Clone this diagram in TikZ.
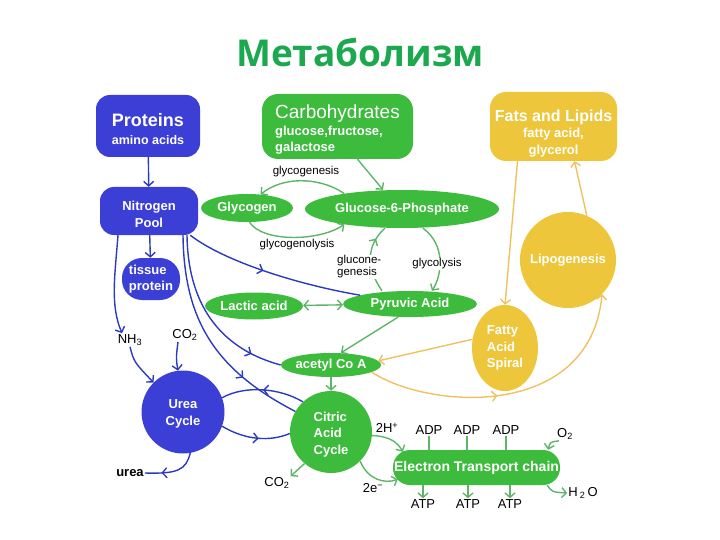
\documentclass[tikz,border=0pt]{standalone}
\usepackage{fontspec}
\setmainfont{Liberation Sans}
\newfontfamily\titlefont{Open Sans}
\usepackage{tikz}
\usetikzlibrary{arrows.meta,shapes.geometric,decorations.markings}
\definecolor{bluefill}{HTML}{3B3FD6}
\definecolor{blueline}{HTML}{2B3BBF}
\definecolor{greenfill}{HTML}{3DBB3D}
\definecolor{greenline}{HTML}{5DB46A}
\definecolor{yellowfill}{HTML}{EDC63B}
\definecolor{yellowline}{HTML}{EFC15F}
\definecolor{titlegreen}{HTML}{1CA84E}
\tikzset{
  >={Straight Barb[length=4.5pt,width=10pt]},
  nodefont/.style={font=\bfseries\fontsize{13}{16.5}\selectfont},
  bluebox/.style={fill=bluefill,text=white,rounded corners=14pt,inner sep=0pt,align=center,nodefont},
  greenbox/.style={fill=greenfill,text=white,rounded corners=14pt,inner sep=0pt,align=center,nodefont},
  yellowbox/.style={fill=yellowfill,text=white,rounded corners=14pt,inner sep=0pt,align=center,nodefont},
  bblob/.style={ellipse,fill=bluefill,text=white,inner sep=0pt,align=center,nodefont},
  gblob/.style={ellipse,fill=greenfill,text=white,inner sep=0pt,align=center,nodefont},
  yblob/.style={ellipse,fill=yellowfill,text=white,inner sep=0pt,align=center,nodefont},
  lbl/.style={inner sep=1pt,fill=white,font=\fontsize{11.5}{12}\selectfont},
  chem/.style={inner sep=1pt,font=\fontsize{13}{15}\selectfont},
  bline/.style={blueline,line width=1.4pt},
  gline/.style={greenline,line width=1.4pt},
  yline/.style={yellowline,line width=1.4pt},
  bar/.style={bline,->},
  gar/.style={gline,->},
  yar/.style={yline,->},
  midtip/.style={postaction={decorate},decoration={markings,mark=at position #1 with {\arrow{>}}}}
}

\begin{document}
\begin{tikzpicture}[x=1pt,y=-1pt]
\useasboundingbox (0,0) rectangle (720,540);
\node[font=\titlefont\bfseries\fontsize{37}{40}\selectfont,text=titlegreen] (title) at (360,52) {Метаболизм};

% boxes on top
\node[bluebox,minimum width=104pt,minimum height=62pt,align=left] (prot) at (148,126)
  {{\fontsize{18}{20}\selectfont\rule{0pt}{19pt}Proteins}\\[1pt]{\fontsize{12.5}{14}\selectfont amino acids}};
\node[greenbox,minimum width=151pt,minimum height=65pt,rounded corners=16pt,align=left] (carb) at (337.5,126.5)
  {{\mdseries\fontsize{19}{21}\selectfont\rule{0pt}{20pt}Carbohydrates}\\ glucose,fructose,\\ galactose};
\node[yellowbox,minimum width=127pt,minimum height=69pt,rounded corners=16pt] (fats) at (553.5,126.5)
  {{\fontsize{16}{18}\selectfont\rule{0pt}{25pt}Fats and Lipids}\\ fatty acid,\\ glycerol};

\node[bluebox,minimum width=98pt,minimum height=48pt] (npool) at (149,211) {\rule{0pt}{16.5pt}Nitrogen\\ Pool};
\node[gblob,minimum width=92pt,minimum height=28pt] (glycogen) at (247,208) {Glycogen};
\node[gblob,minimum width=194pt,minimum height=38pt] (g6p) at (402,209) {Glucose-6-Phosphate};
\node[bluebox,minimum width=58pt,minimum height=42pt,rounded corners=20pt,align=left] (tissue) at (151,279) {tissue\\ protein};
\node[yblob,circle,minimum size=96pt] (lipo) at (568,260) {Lipogenesis};
\node[gblob,minimum width=98pt,minimum height=27pt] (lactic) at (254,306) {Lactic acid};
\node[gblob,minimum width=134pt,minimum height=26pt] (pyr) at (410,304) {Pyruvic Acid};
\node[yblob,minimum width=66pt,minimum height=86pt,align=left] (fas) at (505,348) {Fatty\\ Acid\\ Spiral};
\node[gblob,minimum width=97pt,minimum height=24pt] (acetyl) at (331,365) {acetyl Co A};
\node[bblob,circle,minimum size=83pt] (urea) at (183,412) {\rule{0pt}{13pt}Urea\\ Cycle};
\node[gblob,circle,minimum size=82pt,align=left] (citric) at (331,432) {\rule{0pt}{14pt}Citric\\ Acid\\ Cycle};
\node[greenbox,minimum width=167pt,minimum height=35pt,rounded corners=17pt,font=\bfseries\fontsize{14}{16}\selectfont] (etc) at (476.5,467.5) {Electron Transport chain};

% formula labels
\node[chem] (nh3) at (130,340) {NH\textsubscript{3}};
\node[chem] (co2a) at (185,335) {CO\textsubscript{2}};
\node[chem,font=\bfseries\fontsize{13}{15}\selectfont] (ureal) at (130,473) {urea};
\node[chem] (co2b) at (277,483) {CO\textsubscript{2}};
\node[chem] (hplus) at (387,428) {2H\textsuperscript{+}};
\node[chem] (elec) at (373,488) {2e\textsuperscript{−}};
\foreach \n/\x in {1/429,2/467,3/506} \node[chem] (adp\n) at (\x,430) {ADP};
\foreach \n/\x in {1/423,2/468,3/510} \node[chem] (atp\n) at (\x,504) {ATP};
\node[chem] (o2) at (565,434) {O\textsubscript{2}};
\node[chem] (h2o) at (583,493) {H\,\textsubscript{2}\,O};

% nitrogen side
\draw[bar] (prot) -- (npool);
\draw[bar] (npool) -- (tissue);
\draw[bar] ([xshift=-31pt]npool.south) .. controls (115,275) and (110,305) .. ([xshift=-8pt]nh3.north);
\draw[bar] (nh3.south) .. controls (134,362) .. (urea.135);
\draw[bar] ([xshift=-7pt]co2a.south) .. controls (176,358) .. (urea.97);
\draw[bline,midtip=0.45] ([xshift=-8pt]npool.south east) .. controls (225,262) and (300,285) .. (pyr.170);
\draw[bline,midtip=0.82] ([xshift=38pt]npool.south) .. controls (188,310) and (225,350) .. (acetyl.west);
\draw[bline,midtip=0.72] ([xshift=34pt]npool.south) .. controls (184,320) and (215,370) .. (citric.150);
\draw[bline,midtip=0.5] (citric.133) .. controls (280,388) and (245,385) .. (urea.20);
\draw[bline,midtip=0.55] (urea.-20) .. controls (245,440) and (270,442) .. (citric.182);
\draw[bline,midtip=0.7] (urea.-80) .. controls (186,470) and (178,474) .. (ureal.east);

% carbohydrate side
\draw[gar] ([xshift=20pt]carb.south) -- ([xshift=-19pt]g6p.north);
\draw[gar] (g6p.165) .. controls (318,176) and (282,177) .. (glycogen.45);
\draw[gar] (glycogen.-80) .. controls (262,242) and (318,242) .. (g6p.-165);
\draw[gline,midtip=0.8] ([xshift=-28pt]pyr.north) .. controls (366,268) and (366,245) .. ([xshift=-17pt]g6p.south);
\draw[gar] ([xshift=21pt]g6p.south) .. controls (446,245) and (442,275) .. ([xshift=22pt]pyr.north);
\draw[gline,<->] (lactic) -- (pyr);
\draw[gar] ([xshift=-12pt]pyr.south) -- ([xshift=10pt]acetyl.north);
\draw[gar] (acetyl) -- (citric);
\draw[gar] (citric.-130) -- (co2b.north east);
\draw[gar] (citric.-5) .. controls (390,436) and (398,443) .. ([xshift=10pt,yshift=-2pt]etc.north west);
\draw[gar] (citric.-45) .. controls (368,480) and (385,484) .. ([xshift=5pt,yshift=6pt]etc.south west);
\foreach \n in {1,2,3} {
  \draw[gline] (adp\n.south) -- (adp\n.south |- etc.north);
  \draw[gar] (atp\n.north |- etc.south) -- (atp\n.north);
}
\draw[gar] ([xshift=-6pt]o2.south) .. controls (550,442) .. ([xshift=-12pt]etc.north east);
\draw[gar] ([xshift=-13pt]etc.south east) .. controls (552,492) .. (h2o.west);

% fat side
\draw[yar] ([xshift=-36pt]fats.south) -- (fas.north);
\draw[yar] (lipo.67) -- ([xshift=21pt]fats.south);
\draw[yar] (fas.165) -- (acetyl.5);
\draw[yar,midtip=0.45] (acetyl.-10) .. controls (430,410) and (590,420) .. (lipo.-45);

% pathway names over the arcs
\node[lbl] (lgenesis) at (306,172) {glycogenesis};
\node[lbl] (llysis) at (297,245) {glycogenolysis};
\node[lbl,align=left,anchor=west] (lneo) at (336,267) {glucone-\\genesis};
\node[lbl] (lglyco) at (437,264) {glycolysis};
\end{tikzpicture}
\end{document}
